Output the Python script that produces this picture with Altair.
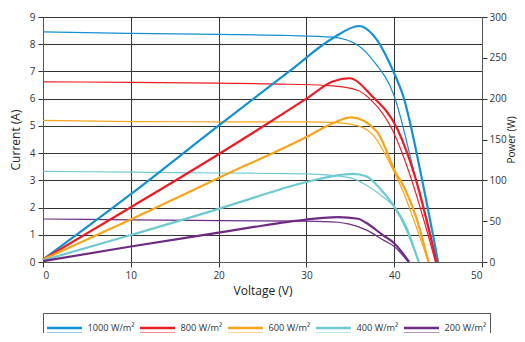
import altair as alt
import pandas as pd

series_labels = ["1000 W/m²", "800 W/m²", "600 W/m²", "400 W/m²", "200 W/m²"]
series_colors = ["#1490d5", "#ec1c24", "#f9a51b", "#6fc9d3", "#6e2b83"]

# Current (I-V) curves, thin lines, left axis (A)
v_i_1000 = [0, 10, 20, 28, 33, 35.9, 37.6, 40, 42.5, 44, 44.9]
i_1000 = [8.45, 8.4, 8.36, 8.32, 8.26, 7.95, 7.4, 6.1, 3.0, 1.2, 0]
v_i_800 = [0, 10, 20, 28, 33, 35.9, 37.2, 39.8, 42.0, 43.5, 44.7]
i_800 = [6.62, 6.6, 6.57, 6.53, 6.47, 6.3, 6.0, 4.85, 3.0, 1.4, 0]
v_i_600 = [0, 10, 20, 30, 33, 35.9, 37.6, 40, 41, 42.5, 43.9]
i_600 = [5.2, 5.16, 5.15, 5.15, 5.13, 5.0, 4.66, 3.3, 2.6, 1.3, 0]
v_i_400 = [0, 10, 20, 30, 34.9, 36.8, 38.7, 40, 41.4, 42.8]
i_400 = [3.33, 3.3, 3.27, 3.24, 3.1, 2.83, 2.4, 2.04, 1.3, 0]
v_i_200 = [0, 10, 20, 30, 33.6, 34.9, 36.8, 38.7, 40, 41.6]
i_200 = [1.58, 1.55, 1.52, 1.5, 1.46, 1.39, 1.18, 0.82, 0.57, 0]

# Power (P-V) curves, thick lines, right axis (W)
v_p_1000 = [0, 10, 20, 28, 33, 36, 37.6, 40, 41, 43.3, 45]
p_1000 = [3, 83, 167, 233, 274, 289, 278, 231, 204, 94, 0]
v_p_800 = [0, 10, 20, 30, 33, 34.9, 37.4, 40.4, 42.5, 44.8]
p_800 = [3, 67, 132, 200, 221, 225, 204, 162, 100, 0]
v_p_600 = [0, 10, 20, 30, 33, 35.1, 38, 40.2, 41.2, 42.5, 43.9]
p_600 = [3, 52, 103, 153, 170, 177, 160, 109, 90, 55, 0]
v_p_400 = [0, 10, 20, 23.5, 30, 35.3, 36.8, 38.7, 40, 41.4, 42.8]
p_400 = [2, 33, 65, 77, 98, 108, 105, 86, 68, 40, 0]
v_p_200 = [0, 10, 20, 23.5, 30, 33.6, 35.9, 36.8, 38.7, 40, 41.7]
p_200 = [1, 19, 36, 42, 52, 55, 53, 48, 33, 23, 0]

i_sets = [(v_i_1000, i_1000), (v_i_800, i_800), (v_i_600, i_600), (v_i_400, i_400), (v_i_200, i_200)]
p_sets = [(v_p_1000, p_1000), (v_p_800, p_800), (v_p_600, p_600), (v_p_400, p_400), (v_p_200, p_200)]

rows_i = []
for lab, (vs, ys) in zip(series_labels, i_sets):
    for v, y in zip(vs, ys):
        rows_i.append({"series": lab, "V": v, "I": y})
rows_p = []
for lab, (vs, ys) in zip(series_labels, p_sets):
    for v, y in zip(vs, ys):
        rows_p.append({"series": lab, "V": v, "P": y})
df_i = pd.DataFrame(rows_i)
df_p = pd.DataFrame(rows_p)

FONT = "Open Sans"

legend = alt.Legend(
    orient="none", legendX=0, legendY=296, direction="horizontal", columns=5,
    title=None,
    symbolType="M-1,-0.08H2.18M-1,0.02H2.18M-1,0.43H2.18",
    symbolSize=484, symbolStrokeWidth=1.3,
    labelFont=FONT, labelFontSize=9.2, labelColor="#333", labelBaseline="middle",
    strokeColor="#555", padding=3, columnPadding=2, labelOffset=17.5,
)
color = alt.Color("series:N", scale=alt.Scale(domain=series_labels, range=series_colors), legend=legend)

x_enc = alt.X("V:Q", scale=alt.Scale(domain=[0, 50]),
              axis=alt.Axis(title="Voltage (V)", values=[0, 10, 20, 30, 40, 50], grid=True,
                            tickSize=5, labelPadding=3, titlePadding=5))

cur = alt.Chart(df_i).mark_line(strokeWidth=1.2, interpolate="monotone").encode(
    x=x_enc,
    y=alt.Y("I:Q", scale=alt.Scale(domain=[0, 9]),
            axis=alt.Axis(title="Current (A)", values=list(range(10)), grid=True,
                          tickSize=5, labelPadding=3, titlePadding=7)),
    color=color,
    detail="series:N",
)
pw = alt.Chart(df_p).mark_line(strokeWidth=2.2, interpolate="monotone").encode(
    x=x_enc,
    y=alt.Y("P:Q", scale=alt.Scale(domain=[0, 300]),
            axis=alt.Axis(title="Power (W)", orient="right", values=[0, 50, 100, 150, 200, 250, 300],
                          grid=False, tickSize=5, labelPadding=2, titlePadding=0, titleAngle=270,
                          titleBaseline="top", titleFontSize=10)),
    color=color,
    detail="series:N",
)

chart = alt.layer(cur, pw).resolve_scale(y="independent").properties(
    width=439, height=245,
    autosize=alt.AutoSizeParams(type="none"),
    padding={"left": 35, "top": 9, "right": 35, "bottom": 71},
).configure_view(stroke=None).configure_axis(
    domainColor="#555", tickColor="#333", gridColor="#333", gridWidth=1,
    labelFont=FONT, labelFontSize=10, labelColor="#333",
    titleFont=FONT, titleFontSize=12, titleFontWeight="normal", titleColor="#222",
)

chart.save("out.html", embed_options={"renderer": "svg", "actions": False})
